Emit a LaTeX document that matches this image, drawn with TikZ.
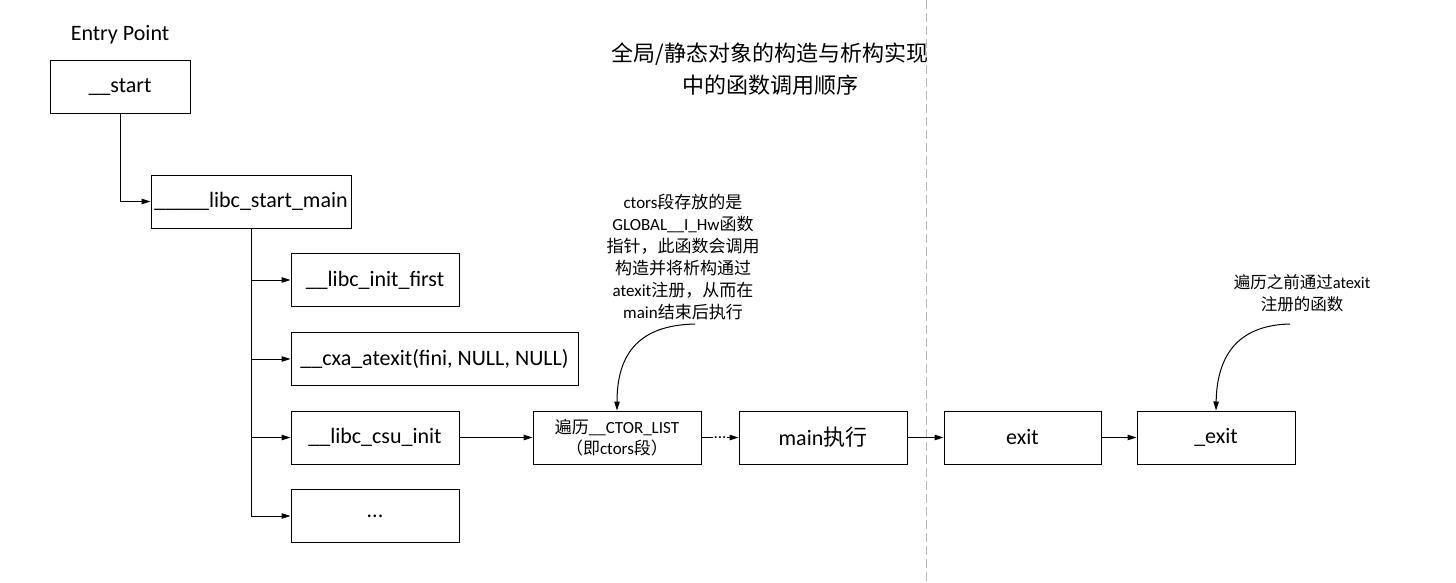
\documentclass[tikz,border=0pt]{standalone}
\usepackage{fontspec}
\setmainfont{Carlito}
\newfontfamily\cjk{Noto Sans CJK SC}
\usetikzlibrary{arrows.meta}

\tikzset{
  box/.style={draw, line width=1pt, minimum width=168pt, minimum height=53pt,
    inner sep=0pt, font=\fontsize{22}{26}\selectfont},
  link/.style={line width=1pt, -{Triangle[length=9pt,width=5.5pt]}},
  note/.style={align=center, inner sep=0pt, font=\fontsize{17}{22}\selectfont},
}

\begin{document}
\begin{tikzpicture}[x=1pt, y=-1pt]
    \useasboundingbox (0,0) rectangle (1456,583);
    % separator
    \draw[gray!55, line width=1pt, dash pattern=on 9pt off 4pt] (926,0) -- (926,583);
    % title
    \node[align=center, font=\cjk\fontsize{22}{32}\selectfont] (title) at (770,69)
        {全局/静态对象的构造与析构实现\\中的函数调用顺序};

    \node[font=\fontsize{22}{26}\selectfont] (entry) at (120,35) {Entry Point};
    \node[box, minimum width=140pt] (start) at (120,87.5) {\_\_start};
    \node[box, minimum width=200pt] (lsm) at (251,201.5) {\_\_\_\_\_libc\_start\_main};

    \node[box] (initfirst) at (375,280) {\_\_libc\_init\_first};
    \node[box, minimum width=287pt] (cxa) at (434.5,359) {\_\_cxa\_atexit(fini, NULL, NULL)};
    \node[box] (csuinit) at (375,437.5) {\_\_libc\_csu\_init};
    \node[box] (more) at (375,516) {...};

    \node[box, font=\fontsize{17}{21}\selectfont, align=center] (ctorlist) at (617,437.5)
        {{\cjk 遍历}\_\_CTOR\_LIST\\{\cjk （即}ctors{\cjk 段）}};
    \node[box] (mainrun) at (823,437.5) {main{\cjk 执行}};
    \node[box, minimum width=157pt] (exit) at (1022.5,437.5) {exit};
    \node[box, minimum width=158pt] (uexit) at (1216,437.5) {\_exit};

    % notes
    \node[note] (ctornote) at (683,257.5)
        {ctors{\cjk 段存放的是}\\GLOBAL\_\_I\_Hw{\cjk 函数}\\{\cjk 指针，此函数会调用}\\{\cjk 构造并将析构通过}\\atexit{\cjk 注册，从而在}\\main{\cjk 结束后执行}};
    \node[note, font=\fontsize{16.5}{22}\selectfont] (exitnote) at (1302,293)
        {{\cjk 遍历之前通过}atexit\\{\cjk 注册的函数}};
    \coordinate (ctortail) at (695,324);
    \coordinate (exittail) at (1290,324);

    % calls
    \draw[link] (start.south) |- (lsm.west);
    \draw[line width=1pt] (lsm.south) -- (lsm.south |- more.west);
    \foreach \child in {initfirst, cxa, csuinit, more}
        \draw[link] (lsm.south |- \child.west) -- (\child.west);
    \draw[link] (csuinit) -- (ctorlist);
    \draw[link] (ctorlist) -- node[fill=white, inner sep=1pt, font=\fontsize{17}{20}\selectfont] {...} (mainrun);
    \draw[link] (mainrun) -- (exit);
    \draw[link] (exit) -- (uexit);

    \draw[link] (ctortail) .. controls (648,325) and (617,345) .. (ctorlist.north);
    \draw[link] (exittail) .. controls (1243,325) and (1217,350) .. (uexit.north);
\end{tikzpicture}
\end{document}
